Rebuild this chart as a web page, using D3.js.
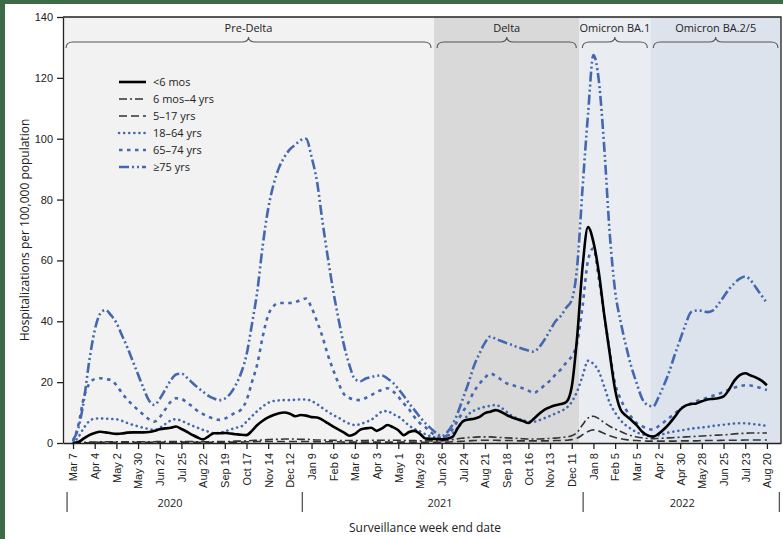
<!DOCTYPE html>
<html>
<head>
<meta charset="utf-8">
<script src="https://cdn.jsdelivr.net/npm/d3@7"></script>
<style>
  body { margin: 0; background: #3d6a47; }
  svg { display: block; font-family: "Open Sans", "Noto Sans", sans-serif; }
</style>
</head>
<body>
<div id="chart"></div>
<script>
// weekly rates, week 0 = week ending Mar 7 2020, last = Aug 20 2022
const lt6mos = [
  0, 0.3, 1.5, 2.6, 3.3, 3.7, 3.5, 3.2, 3, 3.1,
  3.4, 3.5, 3.5, 3.5, 3.6, 4, 4.5, 4.8, 5, 5.4,
  4.6, 3.7, 2.7, 1.8, 1.2, 2.2, 3.2, 3.2, 3.3, 3.1,
  2.9, 2.7, 2.6, 4, 5.9, 7.3, 8.4, 9.2, 9.8, 10,
  9.6, 8.8, 9.2, 9, 8.5, 8.4, 7.6, 6.5, 5.4, 4.4,
  3.4, 2.4, 3, 4.4, 4.8, 5, 4, 4.8, 5.9, 5.2,
  4.2, 2.6, 3.6, 4, 3, 1.5, 1.4, 1.3, 1.2, 1.4,
  2, 5, 7.2, 7.7, 8, 8.6, 9.8, 10.3, 10.8, 10.2,
  9.2, 8.4, 7.8, 7.2, 6.6, 8, 9.6, 11, 11.8, 12.4,
  12.8, 13.5, 18.5, 35, 58, 71, 66, 56, 42, 29.5,
  17.5, 11, 9, 7.5, 5.8, 3.7, 2.5, 2.1, 3, 4.5,
  6.4, 8.6, 11, 12.3, 12.8, 13, 13.7, 14.3, 14.5, 14.7,
  15.3, 17.5, 20.5, 22.3, 22.9, 22.2, 21.5, 20.5, 19
];
const m6to4y = [
  0, 0.1, 0.2, 0.3, 0.3, 0.4, 0.4, 0.4, 0.4, 0.4,
  0.4, 0.4, 0.4, 0.4, 0.4, 0.4, 0.5, 0.5, 0.5, 0.5,
  0.5, 0.5, 0.5, 0.4, 0.4, 0.4, 0.4, 0.5, 0.5, 0.5,
  0.6, 0.6, 0.7, 0.8, 0.9, 1, 1.1, 1.2, 1.2, 1.3,
  1.3, 1.3, 1.2, 1.2, 1.1, 1, 1, 0.9, 0.9, 0.8,
  0.8, 0.8, 0.8, 0.8, 0.8, 0.9, 0.9, 0.9, 0.9, 0.9,
  0.9, 0.8, 0.8, 0.8, 0.7, 0.7, 0.7, 0.7, 0.7, 0.9,
  1.1, 1.4, 1.6, 1.8, 1.9, 2, 2, 2, 1.9, 1.8,
  1.7, 1.6, 1.5, 1.4, 1.3, 1.3, 1.3, 1.4, 1.5, 1.6,
  1.8, 2, 2.4, 3.5, 6, 8.2, 8.8, 8, 6.7, 5.5,
  4.6, 3.8, 3, 2.4, 2, 1.7, 1.5, 1.4, 1.5, 1.6,
  1.7, 1.8, 1.9, 2, 2.1, 2.2, 2.3, 2.4, 2.5, 2.6,
  2.7, 2.8, 3, 3.1, 3.2, 3.3, 3.3, 3.3, 3.3
];
const y5to17 = [
  0, 0, 0.1, 0.1, 0.2, 0.2, 0.2, 0.2, 0.2, 0.2,
  0.2, 0.2, 0.2, 0.2, 0.2, 0.2, 0.2, 0.3, 0.3, 0.3,
  0.3, 0.3, 0.3, 0.2, 0.2, 0.2, 0.2, 0.3, 0.3, 0.3,
  0.3, 0.3, 0.4, 0.4, 0.5, 0.5, 0.5, 0.5, 0.5, 0.5,
  0.5, 0.5, 0.5, 0.5, 0.5, 0.4, 0.4, 0.4, 0.4, 0.4,
  0.3, 0.3, 0.3, 0.3, 0.3, 0.3, 0.3, 0.3, 0.3, 0.3,
  0.3, 0.3, 0.3, 0.3, 0.2, 0.2, 0.2, 0.2, 0.2, 0.3,
  0.4, 0.5, 0.6, 0.7, 0.8, 0.9, 0.9, 0.9, 0.9, 0.8,
  0.8, 0.8, 0.7, 0.7, 0.7, 0.7, 0.7, 0.7, 0.7, 0.8,
  0.8, 0.9, 1.1, 1.6, 2.7, 3.8, 4.3, 3.9, 3.1, 2.4,
  1.8, 1.4, 1.1, 0.9, 0.8, 0.7, 0.6, 0.6, 0.6, 0.6,
  0.6, 0.6, 0.7, 0.7, 0.7, 0.7, 0.8, 0.8, 0.8, 0.8,
  0.9, 0.9, 0.9, 0.9, 1, 1, 1, 1, 1
];
const y18to64 = [
  0, 2, 5, 7.2, 8, 8.1, 8, 7.9, 7.8, 7.3,
  6.6, 6, 5.5, 5, 4.6, 4.3, 5, 6.2, 7.4, 7.8,
  7.3, 6.5, 5.7, 5, 4.3, 3.7, 3.2, 3.3, 3.8, 4.4,
  5, 5.4, 7, 8.8, 10.5, 12, 13.2, 13.8, 14, 14.1,
  14.1, 14.2, 14.3, 14.3, 13.8, 12.8, 11.5, 10.3, 9.2, 8.3,
  7.2, 6.3, 5.9, 6.2, 6.9, 7.6, 9, 10.3, 10.5, 9.5,
  8.7, 7.3, 5.7, 4.6, 3.8, 2.9, 2.2, 1.8, 1.6, 2.4,
  3.2, 5, 7.3, 9.5, 10.7, 11.4, 11.9, 12.2, 12.5, 11.6,
  10.2, 8.9, 8.1, 7.5, 7.1, 7, 7.5, 8.2, 8.9, 9.7,
  10.5, 11.5, 13.5, 17, 22, 27, 26, 23.5, 18.5, 13.2,
  10, 7.5, 5.8, 4.6, 3.5, 2.9, 2.4, 2.1, 2.5, 3,
  3.5, 3.8, 4.1, 4.4, 4.7, 4.9, 5.1, 5.3, 5.6, 5.8,
  6, 6.2, 6.4, 6.5, 6.5, 6.3, 6.1, 5.9, 5.6
];
const y65to74 = [
  0.5, 6, 15, 19.5, 21, 21.3, 21, 20.7, 19, 16.5,
  14.3, 12.5, 10.8, 9.3, 7.8, 7, 8.5, 11, 13.5, 14.7,
  14.5, 13.3, 12, 10.5, 9.5, 8.6, 8, 7.6, 8, 9,
  10, 11, 14, 20, 26, 35, 42, 45, 46, 46,
  46, 46.3, 47, 47.5, 44.5, 40, 35, 29, 24, 19.5,
  16, 14.8, 14.2, 14.1, 14.8, 15.7, 16.8, 17.5, 18, 17,
  15.2, 13, 11, 8.5, 6.5, 5.2, 3.5, 2.4, 1.7, 2.5,
  4.5, 7.5, 10.5, 13.5, 17, 19.5, 21.5, 22.8, 22, 20.8,
  19.6, 19, 18.5, 18, 17.2, 16.4, 17.5, 19, 20.5, 22.5,
  24.2, 26.5, 28.5, 33, 45, 60, 64, 54, 42, 30,
  19.5, 14.5, 11, 8.5, 6.5, 5.5, 4.6, 4.4, 5.5, 6.8,
  8.3, 9.7, 11.2, 12.3, 13, 13.7, 14.3, 14.9, 15.5, 16.1,
  16.8, 17.5, 18.2, 18.7, 19, 18.9, 18.5, 18, 17.4
];
const y75plus = [
  1, 5, 14, 27, 37, 42.5, 43.7, 42, 39.5, 35.5,
  31.5, 27, 22.5, 18, 14, 12.5, 14.5, 17.5, 20.5, 22.5,
  22.8, 21.5, 19.8, 18.2, 16.8, 15.5, 14.6, 14.1, 14.6, 16.2,
  19, 23, 29, 39, 50, 65, 77, 85, 90.5, 94,
  96.5, 98, 99.5, 100, 94, 86, 73, 61, 50, 40.5,
  32, 25.5, 21, 20.3, 21.2, 21.7, 22.1, 22.2, 21.2, 19.8,
  17.8, 15.5, 13, 10.8, 8.5, 6.5, 4.8, 3.3, 2.2, 3.5,
  6, 10, 15, 20, 25.5, 29.5, 33, 35, 34.2, 33.5,
  32.8, 32.2, 31.5, 30.9, 30.4, 30, 31.5, 34, 37, 40,
  41.8, 44.5, 47, 58, 84, 108, 127.5, 119, 97, 69,
  50, 40, 32, 25, 19.5, 14.5, 12.5, 12, 15, 19,
  23.5, 29, 34, 39, 43, 43.5, 43.5, 43, 43.5, 45.5,
  48, 50.5, 52.5, 54, 54.7, 53.5, 51, 48.5, 46
];

const seriesNames = ["<6 mos", "6 mos\u20134 yrs", "5\u201317 yrs", "18\u201364 yrs", "65\u201374 yrs", "\u226575 yrs"];
const seriesValues = [lt6mos, m6to4y, y5to17, y18to64, y65to74, y75plus];

// x tick labels, one every 4 weeks from week 0
const tickLabels = ["Mar 7", "Apr 4", "May 2", "May 30", "Jun 27", "Jul 25", "Aug 22", "Sep 19", "Oct 17", "Nov 14", "Dec 12",
  "Jan 9", "Feb 6", "Mar 6", "Apr 3", "May 1", "May 29", "Jun 26", "Jul 24", "Aug 21", "Sep 18", "Oct 16", "Nov 13", "Dec 11",
  "Jan 8", "Feb 5", "Mar 5", "Apr 2", "Apr 30", "May 28", "Jun 25", "Jul 23", "Aug 20"];

// variant periods (start/end in week index)
const periodNames = ["Pre-Delta", "Delta", "Omicron BA.1", "Omicron BA.2/5"];
const periodBounds = [-1.85, 66.6, 93.4, 106.5, 130.6];
const periodColors = ["#f2f2f2", "#d9d9d9", "#e9edf2", "#dce3ed"];

const years = ["2020", "2021", "2022"];
const yearLabelWeek = [17.9, 67.7, 112.4];
const yearSeparators = [-1.1, 42.3, 94.1, 130.3];

const W = 783, H = 539;
const blue = "#4468b0", dark = "#333";
const styles = [
  {color: "#000", width: 2.6, dash: null, cap: "butt"},
  {color: dark, width: 1.6, dash: "8,3,2,3", cap: "butt"},
  {color: dark, width: 1.6, dash: "8,4", cap: "butt"},
  {color: blue, width: 2.6, dash: "0.1,5", cap: "round"},
  {color: blue, width: 2.6, dash: "3.5,4.5", cap: "butt"},
  {color: blue, width: 2.6, dash: "10,3,2,3,2,3", cap: "butt"}
];

const svg = d3.select("#chart").append("svg").attr("width", W).attr("height", H);
svg.append("rect").attr("x", 5).attr("y", 4).attr("width", W - 5).attr("height", H - 4).attr("fill", "#fff");

const x = d3.scaleLinear().domain([periodBounds[0], periodBounds[4]]).range([63, 781]);
const y = d3.scaleLinear().domain([0, 140]).range([443, 17]);

// period shading
svg.selectAll(".period").data(periodNames).join("rect")
  .attr("x", (d, i) => x(periodBounds[i]))
  .attr("y", y(140))
  .attr("width", (d, i) => x(periodBounds[i + 1]) - x(periodBounds[i]))
  .attr("height", y(0) - y(140))
  .attr("fill", (d, i) => periodColors[i]);

// braces
function brace(x0, x1, yEnd, yMid, yTip) {
  const xm = (x0 + x1) / 2, r = 7;
  return `M${x0},${yEnd} Q${x0},${yMid} ${x0 + r},${yMid} L${xm - r},${yMid} Q${xm},${yMid} ${xm},${yTip}` +
    ` Q${xm},${yMid} ${xm + r},${yMid} L${x1 - r},${yMid} Q${x1},${yMid} ${x1},${yEnd}`;
}
svg.selectAll(".brace").data(periodNames).join("path")
  .attr("d", (d, i) => brace(x(periodBounds[i]) + 3, x(periodBounds[i + 1]) - 3, 48, 42, 37))
  .attr("fill", "none").attr("stroke", "#555").attr("stroke-width", 1.1);
svg.selectAll(".plabel").data(periodNames).join("text")
  .attr("x", (d, i) => (x(periodBounds[i]) + x(periodBounds[i + 1])) / 2)
  .attr("y", 32)
  .attr("text-anchor", "middle").attr("font-size", "11px").attr("fill", "#222")
  .text(d => d);

// lines, oldest group drawn last so it sits on top
const line = d3.line().x((d, i) => x(i)).y(d => y(d)).curve(d3.curveMonotoneX);
const order = [5, 4, 3, 2, 1, 0];
svg.selectAll(".series").data(order).join("path")
  .attr("d", k => line(seriesValues[k]))
  .attr("fill", "none")
  .attr("stroke", k => styles[k].color)
  .attr("stroke-width", k => styles[k].width)
  .attr("stroke-dasharray", k => styles[k].dash)
  .attr("stroke-linecap", k => styles[k].cap)
  .attr("stroke-linejoin", "round");

// axes
const yAxis = svg.append("g").attr("transform", "translate(63,0)")
  .call(d3.axisLeft(y).tickValues(d3.range(0, 141, 20)).tickSize(6).tickSizeOuter(0).tickPadding(4));
yAxis.selectAll("text").attr("font-size", "11px").attr("fill", "#222").style("font-family", "inherit");

const xAxis = svg.append("g").attr("transform", "translate(0,443)")
  .call(d3.axisBottom(x).tickValues(d3.range(0, 129, 4)).tickFormat((d, i) => tickLabels[i]).tickSize(6).tickSizeOuter(0));
xAxis.selectAll("text")
  .attr("transform", "rotate(-90)")
  .attr("text-anchor", "end")
  .attr("x", -10).attr("y", 0).attr("dy", "0.35em")
  .attr("font-size", "11px").attr("fill", "#222").style("font-family", "inherit");

svg.selectAll(".domain, .tick line").attr("stroke", "#222").attr("stroke-width", 1.3);

// frame: top and right
svg.append("path")
  .attr("d", `M63,${y(140)} H781 V${y(0)}`)
  .attr("fill", "none").attr("stroke", "#222").attr("stroke-width", 1.3);

// year row
svg.selectAll(".ysep").data(yearSeparators).join("line")
  .attr("x1", d => x(d)).attr("x2", d => x(d))
  .attr("y1", 492).attr("y2", 512)
  .attr("stroke", "#555").attr("stroke-width", 1.3);
svg.selectAll(".year").data(years).join("text")
  .attr("x", (d, i) => x(yearLabelWeek[i])).attr("y", 507)
  .attr("text-anchor", "middle").attr("font-size", "11px").attr("fill", "#222")
  .text(d => d);

// axis titles
svg.append("text")
  .attr("x", 425).attr("y", 532)
  .attr("text-anchor", "middle").attr("font-size", "12px").attr("fill", "#222")
  .text("Surveillance week end date");
svg.append("text")
  .attr("transform", `translate(29,${(y(0) + y(140)) / 2}) rotate(-90)`)
  .attr("text-anchor", "middle").attr("font-size", "12px").attr("fill", "#222")
  .text("Hospitalizations per 100,000 population");

// legend
const legend = svg.selectAll(".legend").data(seriesNames).join("g")
  .attr("transform", (d, i) => `translate(119,${82 + i * 17})`);
legend.append("line")
  .attr("x1", 0).attr("x2", 27).attr("y1", 0).attr("y2", 0)
  .attr("stroke", (d, i) => styles[i].color)
  .attr("stroke-width", (d, i) => styles[i].width)
  .attr("stroke-dasharray", (d, i) => styles[i].dash)
  .attr("stroke-linecap", (d, i) => styles[i].cap);
legend.append("text")
  .attr("x", 34).attr("y", 0).attr("dy", "0.35em")
  .attr("font-size", "11px").attr("fill", "#222")
  .text(d => d);
</script>
</body>
</html>
